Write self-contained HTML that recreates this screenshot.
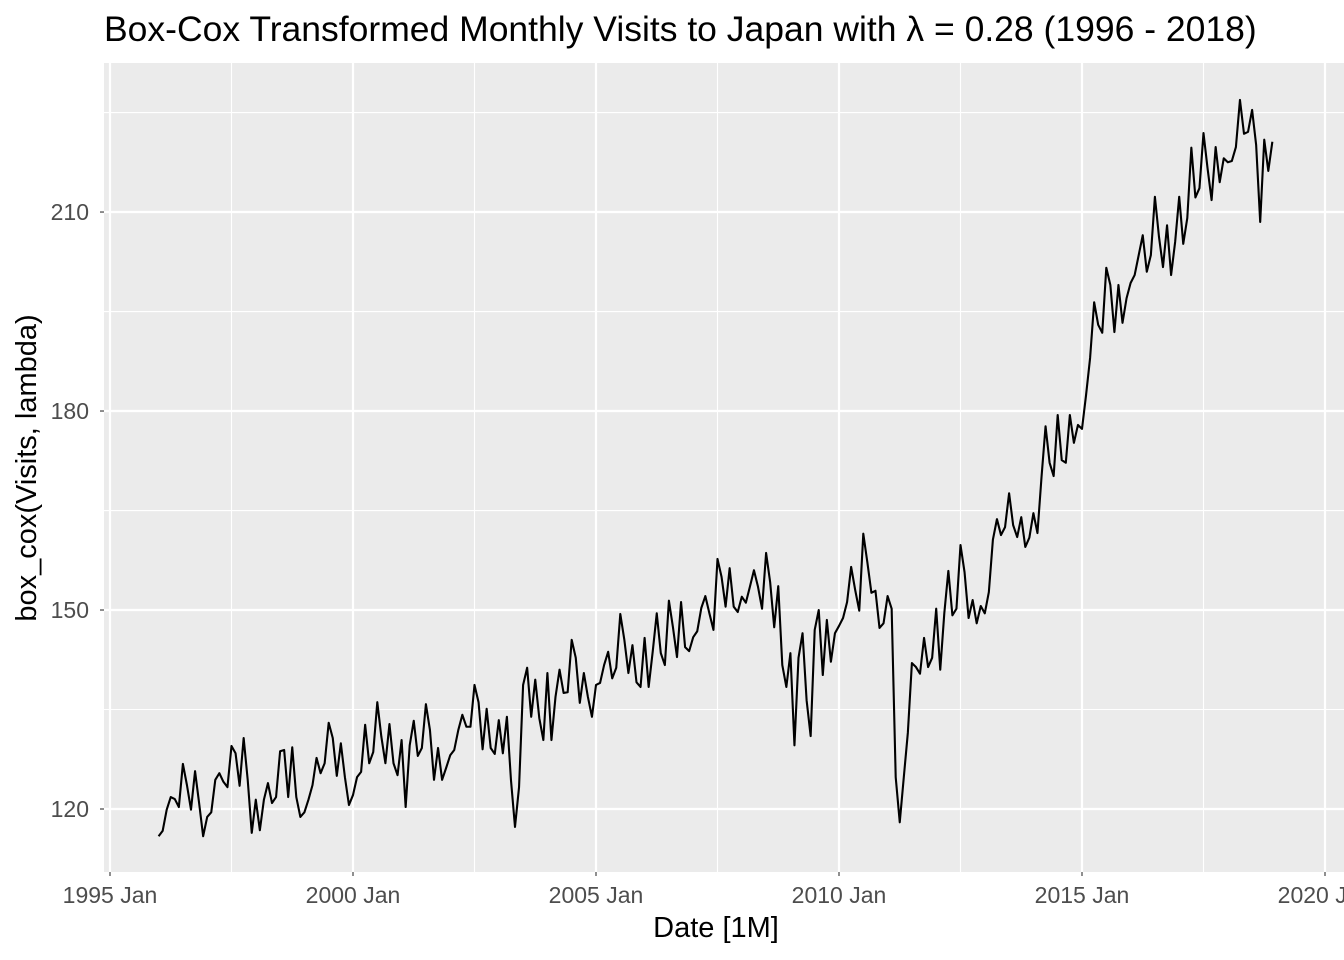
<!DOCTYPE html>
<html><head><meta charset="utf-8"><style>
html,body{margin:0;padding:0;background:#fff;width:1344px;height:960px;overflow:hidden}
svg{display:block;font-family:"Liberation Sans",sans-serif}
</style></head><body>
<svg id="chart" width="1344" height="960" viewBox="0 0 1344 960"></svg>
<script>
const startYear = 1996;
const xTickLabels = ["1995 Jan","2000 Jan","2005 Jan","2010 Jan","2015 Jan","2020 Jan"];
const xTickYears = [1995,2000,2005,2010,2015,2020];
const yTicks = [120,150,180,210];
const yMinor = [135,165,195,225];
const values = [
115.9,116.7,119.9,121.8,121.5,120.3,126.8,123.6,119.9,125.7,120.9,115.9,
118.8,119.5,124.4,125.4,124.1,123.3,129.5,128.4,123.5,130.7,124.4,116.4,
121.4,116.8,121.4,123.9,120.9,121.8,128.7,128.9,121.8,129.3,121.8,118.8,
119.5,121.4,123.6,127.7,125.4,126.9,133.0,130.7,125.0,129.9,124.8,120.6,
122.1,124.8,125.6,132.7,126.9,128.6,136.1,130.9,126.9,132.8,126.9,125.1,
130.4,120.3,129.6,133.3,128.0,129.2,135.8,131.9,124.4,129.2,124.4,126.2,
128.1,128.9,131.9,134.2,132.4,132.4,138.7,136.1,129.0,135.1,129.2,128.3,
133.4,128.4,133.9,124.4,117.3,123.3,138.7,141.3,133.9,139.5,133.7,130.4,
140.5,130.4,136.9,141.0,137.5,137.6,145.5,142.8,136.0,140.5,136.9,133.9,
138.7,139.0,141.7,143.7,139.7,141.3,149.4,145.5,140.5,144.7,139.1,138.4,
145.8,138.4,143.7,149.5,143.5,141.7,151.4,147.4,142.9,151.2,144.4,143.8,
145.9,146.8,150.3,152.1,149.5,147.0,157.7,155.0,150.5,156.3,150.5,149.7,
152.0,151.1,153.5,156.0,153.5,150.2,158.6,154.2,147.4,153.6,141.7,138.4,
143.5,129.6,142.8,146.5,136.4,131.0,147.0,150.0,140.2,148.5,142.2,146.5,
147.6,148.8,151.2,156.5,153.0,149.9,161.5,157.2,152.6,152.9,147.3,148.0,
152.1,150.2,124.8,118.0,124.8,131.5,142.0,141.4,140.4,145.8,141.4,142.8,
150.2,141.0,149.5,155.9,149.2,150.2,159.8,155.7,148.8,151.5,148.0,150.6,
149.5,152.7,160.6,163.7,161.3,162.5,167.6,162.8,161.0,164.0,159.5,160.9,
164.6,161.6,170.0,177.7,172.2,170.2,179.4,172.6,172.2,179.4,175.2,177.9,
177.3,182.4,188.0,196.4,193.0,191.8,201.6,199.0,191.9,199.0,193.3,197.0,
199.3,200.5,203.5,206.5,201.0,203.5,212.3,206.3,201.7,208.0,200.5,205.5,
212.3,205.2,209.1,219.7,212.2,213.6,221.9,216.6,211.8,219.8,214.5,218.1,
217.5,217.7,219.8,226.9,221.8,222.1,225.4,220.1,208.5,220.9,216.2,220.6
];
const NS='http://www.w3.org/2000/svg';
const svg=document.getElementById('chart');
const P={l:104,r:1344,t:63,b:872};
function xScale(yearFrac){return 110+(yearFrac-1995)*48.6;}
function yScale(v){return 809-(v-120)*6.633;}
function mk(tag,attrs,parent){const e=document.createElementNS(NS,tag);for(const k in attrs)e.setAttribute(k,attrs[k]);(parent||svg).appendChild(e);return e;}
const panel=mk('rect',{x:P.l,y:P.t,width:P.r-P.l,height:P.b-P.t,fill:'#ebebeb'});


const grid=mk('g',{});


yMinor.forEach(v=>{mk('line',{x1:P.l,x2:P.r,y1:yScale(v),y2:yScale(v),stroke:'#fff','stroke-width':1.1},grid);});
for(let yr=1997.5;yr<2020;yr+=5){mk('line',{x1:xScale(yr),x2:xScale(yr),y1:P.t,y2:P.b,stroke:'#fff','stroke-width':1.1},grid);}
yTicks.forEach(v=>{mk('line',{x1:P.l,x2:P.r,y1:yScale(v),y2:yScale(v),stroke:'#fff','stroke-width':2.2},grid);});
xTickYears.forEach(yr=>{mk('line',{x1:xScale(yr),x2:xScale(yr),y1:P.t,y2:P.b,stroke:'#fff','stroke-width':2.2},grid);});
let d='';
values.forEach((v,i)=>{const x=xScale(startYear+i/12),y=yScale(v);d+=(i?'L':'M')+x.toFixed(2)+' '+y.toFixed(2);});
const line=mk('path',{d:d,fill:'none',stroke:'#000','stroke-width':2.1,'stroke-linejoin':'round'});


yTicks.forEach(v=>{
  mk('line',{x1:P.l-4,x2:P.l,y1:yScale(v),y2:yScale(v),stroke:'#333','stroke-width':1.1});
  const t=mk('text',{x:89,y:yScale(v)+8,'text-anchor':'end',style:'font-size:23px',fill:'#4d4d4d'});
  t.textContent=v;
  
  
});
xTickYears.forEach((yr,i)=>{
  mk('line',{x1:xScale(yr),x2:xScale(yr),y1:P.b,y2:P.b+4,stroke:'#333','stroke-width':1.1});
  const t=mk('text',{x:xScale(yr),y:903,'text-anchor':'middle',style:'font-size:23px',fill:'#4d4d4d'});
  t.textContent=xTickLabels[i];
  
  
});
const xt=mk('text',{x:716,y:937,'text-anchor':'middle',style:'font-size:29px',fill:'#000'});
xt.textContent='Date [1M]';


const yt=mk('text',{x:0,y:0,'text-anchor':'middle',style:'font-size:29px',fill:'#000',transform:'translate(36,468) rotate(-90)'});
yt.textContent='box_cox(Visits, lambda)';


const tt=mk('text',{x:104,y:41,style:'font-size:35.5px',fill:'#000'});
tt.textContent='Box-Cox Transformed Monthly Visits to Japan with \u03bb = 0.28 (1996 - 2018)';


</script>
</body></html>
